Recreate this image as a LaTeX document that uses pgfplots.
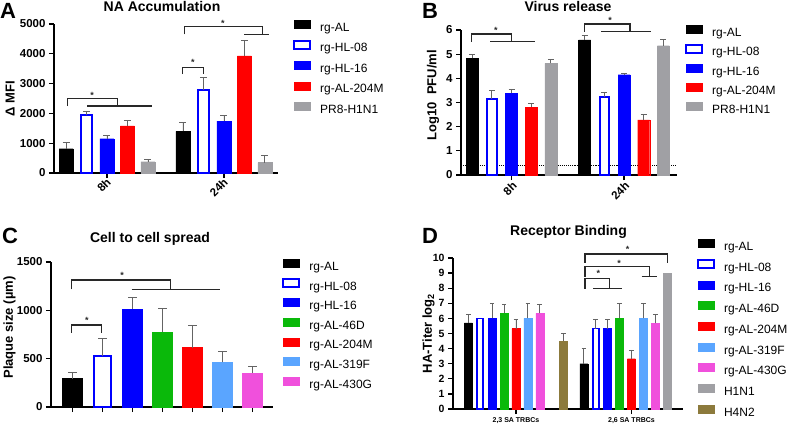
\documentclass[border=0pt]{standalone}
\usepackage{pgfplots}
\pgfplotsset{compat=1.18}
\usepackage{fontspec}
\setmainfont{Liberation Sans}
\definecolor{cBlue}{RGB}{0,0,255}
\definecolor{cRed}{RGB}{255,0,0}
\definecolor{cGray}{RGB}{160,160,164}
\definecolor{cGreen}{RGB}{10,185,10}
\definecolor{cLBlue}{RGB}{90,165,255}
\definecolor{cPink}{RGB}{240,80,220}
\definecolor{cOlive}{RGB}{140,122,60}
\definecolor{cErr}{RGB}{100,100,100}
\definecolor{cBrk}{RGB}{40,40,40}
\tikzset{sig/.style={font=\bfseries\fontsize{9}{9}\selectfont, anchor=base, inner sep=0pt, text=cBrk}}
\pgfplotsset{
  panel/.style={
    scale only axis, clip=false, enlargelimits=false,
    axis lines*=left,
    axis line style={line width=1.3pt, black},
    tick align=outside, major tick length=5pt,
    every tick/.style={line width=1.3pt, black},
    tick label style={font=\bfseries\fontsize{11.5}{13}\selectfont},
    /pgf/number format/assume math mode=true,
    /pgf/number format/1000 sep={},
    scaled y ticks=false,
    label style={font=\bfseries\fontsize{13}{15}\selectfont},
    legend image code/.code={\draw[##1] (0pt,0pt) rectangle (16pt,8pt);},
    legend cell align=left,
    legend style={draw=none, fill=none, inner sep=0pt, anchor=north west,
      font=\fontsize{12}{14}\selectfont, column sep=9pt, row sep=0pt},
  },
  rowh/.style={legend style={nodes={inner sep=0pt, text height=8.6pt, text depth=2.4pt, minimum height=#1}}},
  eb/.style={error bars/y dir=plus, error bars/y explicit,
    error bars/error bar style={line width=0.9pt, cErr, solid},
    error bars/error mark options={rotate=90, mark size=#1, line width=0.9pt, cErr, solid}},
  eb/.default=3.5pt,
  brk/.style={sharp plot, line width=1.2pt, cBrk, forget plot, mark=none},
}
\begin{document}
\begin{tikzpicture}
\useasboundingbox (0,0) rectangle (787pt,-426pt);
% ---------------- A ----------------
\begin{axis}[panel, at={(54pt,-173pt)}, anchor=south west, width=224pt, height=149pt,
  xmin=-0.453, xmax=1.462, ymin=0, ymax=5000, ytick={0,1000,...,5000},
  xtick={0,1}, xticklabels={8h,24h}, xticklabel style={rotate=45, anchor=east, xshift=3pt, yshift=-3pt},
  ylabel={Δ MFI}, ylabel style={at={(axis description cs:-0.196,0.5)}, anchor=center},
  rowh=20.5pt, legend style={at={(axis description cs:1.067,1.041)}}]
\addplot[ybar, bar width=14pt, bar shift=0pt, fill=black, draw=black, eb] coordinates {(-0.3504,815) +- (0,223) (0.6496,1395) +- (0,301)};
\addlegendentry{rg-AL}
\addplot[ybar, bar width=11.5pt, bar shift=0pt, fill=white, draw=cBlue, line width=2pt, eb] coordinates {(-0.1752,1930) +- (0,135) (0.8248,2790) +- (0,413)};
\addlegendentry{rg-HL-08}
\addplot[ybar, bar width=14pt, bar shift=0pt, fill=cBlue, draw=cBlue, eb] coordinates {(0,1150) +- (0,111) (1,1741) +- (0,190)};
\addlegendentry{rg-HL-16}
\addplot[ybar, bar width=14pt, bar shift=0pt, fill=cRed, draw=cRed, eb] coordinates {(0.1752,1585) +- (0,178) (1.1752,3929) +- (0,524)};
\addlegendentry{rg-AL-204M}
\addplot[ybar, bar width=14pt, bar shift=0pt, fill=cGray, draw=cGray, eb] coordinates {(0.3504,379) +- (0,67) (1.3504,346) +- (0,257)};
\addlegendentry{PR8-H1N1}
\addplot[brk] coordinates {(-0.336,2248) (-0.336,2507) (0.088,2507) (0.088,2248)};
\addplot[brk] coordinates {(-0.168,2248) (0.387,2248)};
\addplot[brk] coordinates {(0.647,3322) (0.647,3547) (0.823,3547) (0.823,3322)};
\addplot[brk] coordinates {(0.661,4654) (0.661,4909) (1.327,4909) (1.327,4654)};
\addplot[brk] coordinates {(1.174,4654) (1.387,4654)};
\node[sig] at (axis cs:-0.128,2497) {*};
\node[sig] at (axis cs:0.735,3604) {*};
\node[sig] at (axis cs:0.991,4913) {*};
\end{axis}
% ---------------- B ----------------
\begin{axis}[panel, at={(461pt,-175pt)}, anchor=south west, width=216pt, height=145pt,
  xmin=-0.449, xmax=1.471, ymin=0, ymax=6, ytick={0,1,...,6},
  xtick={0,1}, xticklabels={8h,24h}, xticklabel style={rotate=45, anchor=east, xshift=3pt, yshift=-5pt},
  ylabel={Log10\ \ PFU/ml}, ylabel style={at={(axis description cs:-0.13,0.55)}, anchor=center},
  rowh=19.3pt, legend style={at={(axis description cs:1.037,1.045)}}]
\addplot[densely dotted, line width=1.1pt, black, forget plot, sharp plot] coordinates {(-0.449,0.41) (1.471,0.41)};
\addplot[ybar, bar width=12pt, bar shift=0pt, fill=black, draw=black, eb=3pt] coordinates {(-0.3502,4.83) +- (0,0.16) (0.6498,5.59) +- (0,0.20)};
\addlegendentry{rg-AL}
\addplot[ybar, bar width=9.5pt, bar shift=0pt, fill=white, draw=cBlue, line width=2pt, eb=3pt] coordinates {(-0.1751,3.13) +- (0,0.36) (0.8249,3.21) +- (0,0.21)};
\addlegendentry{rg-HL-08}
\addplot[ybar, bar width=12pt, bar shift=0pt, fill=cBlue, draw=cBlue, eb=3pt] coordinates {(0,3.38) +- (0,0.18) (1,4.15) +- (0,0.06)};
\addlegendentry{rg-HL-16}
\addplot[ybar, bar width=12pt, bar shift=0pt, fill=cRed, draw=cRed, eb=3pt] coordinates {(0.1751,2.81) +- (0,0.16) (1.1751,2.28) +- (0,0.24)};
\addlegendentry{rg-AL-204M}
\addplot[ybar, bar width=12pt, bar shift=0pt, fill=cGray, draw=cGray, eb=3pt] coordinates {(0.3502,4.62) +- (0,0.17) (1.3502,5.35) +- (0,0.24)};
\addlegendentry{PR8-H1N1}
\addplot[brk] coordinates {(-0.354,5.516) (-0.354,5.834) (0.002,5.834) (0.002,5.516)};
\addplot[brk] coordinates {(-0.191,5.516) (0.209,5.516)};
\addplot[brk] coordinates {(0.647,5.930) (0.647,6.248) (1.053,6.248) (1.053,5.930)};
\addplot[brk] coordinates {(0.796,5.930) (1.237,5.930)};
\node[sig] at (axis cs:-0.138,5.838) {*};
\node[sig] at (axis cs:0.876,6.252) {*};
\end{axis}
% ---------------- C ----------------
\begin{axis}[panel, at={(51pt,-407pt)}, anchor=south west, width=222pt, height=145pt,
  xmin=-0.717, xmax=6.683, ymin=0, ymax=1500, ytick={0,500,1000,1500},
  xtick={0,...,6}, xticklabels={},
  ylabel={Plaque size (µm)}, ylabel style={at={(axis description cs:-0.187,0.548)}, anchor=center},
  rowh=19.6pt, legend style={at={(axis description cs:1.0405,1.032)}}]
\addplot[ybar, bar width=20pt, bar shift=0pt, fill=black, draw=black, eb=4.5pt] coordinates {(0,293) +- (0,69)};
\addlegendentry{rg-AL}
\addplot[ybar, bar width=17.5pt, bar shift=0pt, fill=white, draw=cBlue, line width=2.2pt, eb=4.5pt] coordinates {(1,524) +- (0,183)};
\addlegendentry{rg-HL-08}
\addplot[ybar, bar width=20pt, bar shift=0pt, fill=cBlue, draw=cBlue, eb=4.5pt] coordinates {(2,1014) +- (0,124)};
\addlegendentry{rg-HL-16}
\addplot[ybar, bar width=20pt, bar shift=0pt, fill=cGreen, draw=cGreen, eb=4.5pt] coordinates {(3,779) +- (0,245)};
\addlegendentry{rg-AL-46D}
\addplot[ybar, bar width=20pt, bar shift=0pt, fill=cRed, draw=cRed, eb=4.5pt] coordinates {(4,614) +- (0,227)};
\addlegendentry{rg-AL-204M}
\addplot[ybar, bar width=20pt, bar shift=0pt, fill=cLBlue, draw=cLBlue, eb=4.5pt] coordinates {(5,462) +- (0,114)};
\addlegendentry{rg-AL-319F}
\addplot[ybar, bar width=20pt, bar shift=0pt, fill=cPink, draw=cPink, eb=4.5pt] coordinates {(6,352) +- (0,69)};
\addlegendentry{rg-AL-430G}
\addplot[brk] coordinates {(-0.027,1218) (-0.027,1314) (3.273,1314) (3.273,1218)};
\addplot[brk] coordinates {(1.973,1218) (4.917,1218)};
\addplot[brk] coordinates {(-0.027,769) (-0.027,848) (0.973,848) (0.973,769)};
\node[sig] at (axis cs:1.65,1328) {*};
\node[sig] at (axis cs:0.483,863) {*};
\end{axis}
% ---------------- D ----------------
\begin{axis}[panel, at={(453pt,-409pt)}, anchor=south west, width=230pt, height=151pt,
  xmin=-0.545, xmax=1.446, ymin=0, ymax=10, ytick={0,1,...,10},
  yticklabel style={font=\bfseries\fontsize{10.5}{12}\selectfont},
  xtick={0,1}, xticklabels={{2,3 SA TRBCs},{2,6 SA TRBCs}},
  xticklabel style={font=\bfseries\fontsize{7}{8}\selectfont},
  ylabel={HA-Titer log\textsubscript{2}}, ylabel style={at={(axis description cs:-0.1065,0.5)}, anchor=center},
  rowh=20.7pt, legend style={at={(axis description cs:1.0609,1.14)}}]
\addplot[ybar, bar width=8pt, bar shift=0pt, fill=black, draw=black, eb=2.3pt] coordinates {(-0.4121,5.70) +- (0,0.58) (0.5879,3.0) +- (0,1.0)};
\addlegendentry{rg-AL}
\addplot[ybar, bar width=6pt, bar shift=0pt, fill=white, draw=cBlue, line width=1.8pt, eb=2.3pt] coordinates {(0.6909,5.33) +- (0,0.58)};
\addlegendentry{rg-HL-08}
\addplot[ybar, bar width=8pt, bar shift=0pt, fill=cBlue, draw=cBlue, eb=2.3pt] coordinates {(-0.2061,6.0) +- (0,1.0) (0.7939,5.33) +- (0,0.58)};
\addlegendentry{rg-HL-16}
\addplot[ybar, bar width=8pt, bar shift=0pt, fill=cGreen, draw=cGreen, eb=2.3pt] coordinates {(-0.1030,6.33) +- (0,0.58) (0.8970,6.0) +- (0,1.0)};
\addlegendentry{rg-AL-46D}
\addplot[ybar, bar width=8pt, bar shift=0pt, fill=cRed, draw=cRed, eb=2.3pt] coordinates {(0,5.33) +- (0,0.58) (1,3.33) +- (0,0.58)};
\addlegendentry{rg-AL-204M}
\addplot[ybar, bar width=8pt, bar shift=0pt, fill=cLBlue, draw=cLBlue, eb=2.3pt] coordinates {(0.1030,6.0) +- (0,1.0) (1.1030,6.0) +- (0,1.0)};
\addlegendentry{rg-AL-319F}
\addplot[ybar, bar width=8pt, bar shift=0pt, fill=cPink, draw=cPink, eb=2.3pt] coordinates {(0.2061,6.33) +- (0,0.58) (1.2061,5.67) +- (0,0.58)};
\addlegendentry{rg-AL-430G}
\addplot[ybar, bar width=8pt, bar shift=0pt, fill=cGray, draw=cGray] coordinates {(1.3091,9.0)};
\addlegendentry{H1N1}
\addplot[ybar, bar width=8pt, bar shift=0pt, fill=cOlive, draw=cOlive, eb=2.3pt] coordinates {(0.4121,4.52) +- (0,0.5)};
\addlegendentry{H4N2}
\addplot[ybar, bar width=6pt, bar shift=0pt, fill=white, draw=cBlue, line width=1.8pt, forget plot] coordinates {(-0.3091,6.0)};
\addplot[brk] coordinates {(0.597,9.67) (0.597,10.26) (1.310,10.26) (1.310,9.67)};
\addplot[brk] coordinates {(0.597,8.76) (0.597,9.42) (1.154,9.42) (1.154,8.76)};
\addplot[brk] coordinates {(1.088,8.76) (1.218,8.76)};
\addplot[brk] coordinates {(0.597,7.97) (0.597,8.66) (0.808,8.66) (0.808,7.97)};
\addplot[brk] coordinates {(0.669,7.97) (0.920,7.97)};
\node[sig] at (axis cs:0.967,10.34) {*};
\node[sig] at (axis cs:0.892,9.45) {*};
\node[sig] at (axis cs:0.713,8.79) {*};
\end{axis}
% ---------------- titles and panel letters ----------------
\tikzset{ttl/.style={anchor=base, inner sep=0pt, font=\bfseries\fontsize{14}{16}\selectfont},
  lett/.style={anchor=base west, inner sep=0pt, font=\bfseries\fontsize{22}{24}\selectfont}}
\node[ttl] at (162pt,-11pt) {NA Accumulation};
\node[ttl] at (568pt,-11pt) {Virus release};
\node[ttl] at (150pt,-242pt) {Cell to cell spread};
\node[ttl] at (568.5pt,-235pt) {Receptor Binding};
\node[lett] at (0pt,-18pt) {A};
\node[lett] at (422pt,-18pt) {B};
\node[lett] at (2pt,-243pt) {C};
\node[lett] at (422pt,-243pt) {D};
\end{tikzpicture}
\end{document}
